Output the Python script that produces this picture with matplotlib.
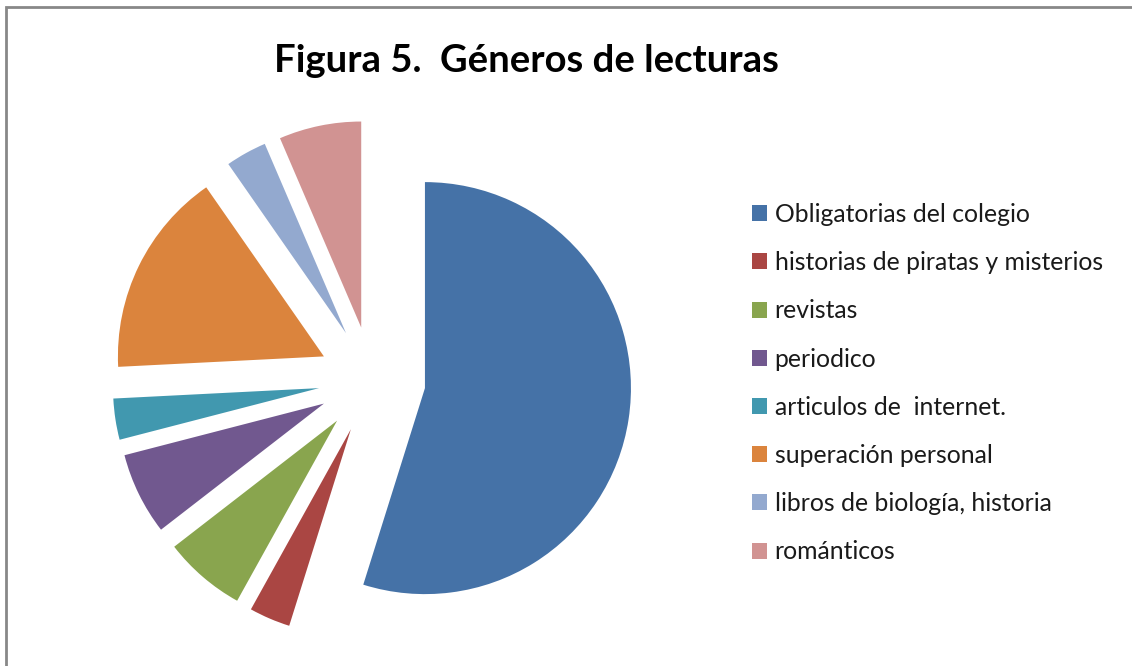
import matplotlib
matplotlib.use("Agg")
import matplotlib.pyplot as plt
from matplotlib.patches import Rectangle

# data
generos = ["Obligatorias del colegio", "historias de piratas y misterios", "revistas",
           "periodico", "articulos de  internet.", "superación personal",
           "libros de biología, historia", "románticos"]
cantidad = [17, 1, 2, 2, 1, 5, 1, 2]
colores = ["#4572A7", "#AA4643", "#89A54E", "#71588F", "#4198AF", "#DB843D",
           "#93A9CF", "#D19392"]

W, H = 1132, 666
plt.rcParams['font.family'] = ['Lato', 'DejaVu Sans']
fig = plt.figure(figsize=(W / 100, H / 100), dpi=100)

# pie placed in pixels: centre (372, 380) from top-left, radius 206 px
cx, cy, r = 372, 380, 206
half = 1.35 * r
ax = fig.add_axes([(cx - half) / W, (H - cy - half) / H, 2 * half / W, 2 * half / H])
ax.pie(cantidad, colors=colores, startangle=90, counterclock=False,
       explode=[0.26] * len(cantidad), radius=1,
       wedgeprops=dict(linewidth=0))
ax.set_xlim(-1.35, 1.35)
ax.set_ylim(-1.35, 1.35)
ax.set_aspect("auto")
ax.axis("off")

fig.text(526 / W, 1 - 61 / H, "Figura 5.  Géneros de lecturas", fontsize=27.5,
         fontweight="bold", ha="center", va="center")

leg = fig.legend(ax.patches, generos, loc="upper left",
                 bbox_to_anchor=(742 / W, 1 - 193 / H), frameon=False,
                 fontsize=17.8, labelspacing=1.02, handlelength=0.62,
                 handleheight=0.62, handletextpad=0.3, borderaxespad=0)
for t in leg.get_texts():
    t.set_color("#1a1a1a")

# chart area border (only top and left edges are visible)
fig.add_artist(Rectangle((6 / W, -0.1), 1.2, 1 - 7 / H + 0.1, transform=fig.transFigure,
                         fill=False, edgecolor="#888888", linewidth=2))

fig.savefig("out.png", dpi=100)
